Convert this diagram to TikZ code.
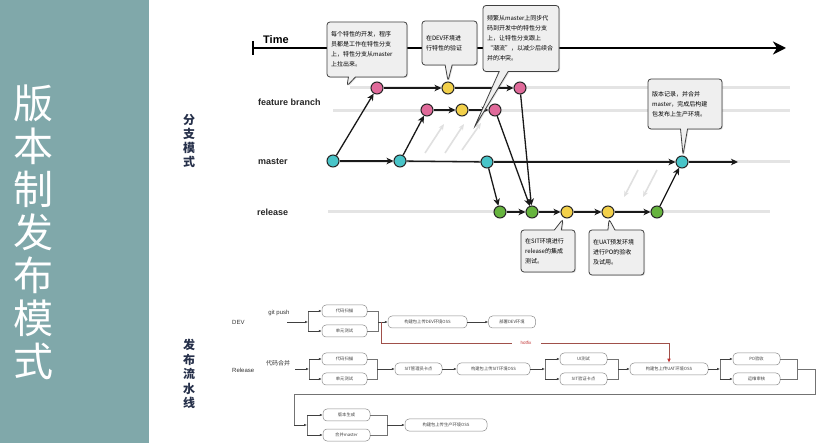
\documentclass[tikz,border=0pt]{standalone}
\usepackage{fontspec}
\setmainfont{Liberation Sans}
\newfontfamily\cjk{Noto Sans CJK SC}
\usetikzlibrary{arrows.meta,shapes.callouts,shadows}
\definecolor{panel}{HTML}{80A8AA}
\definecolor{navy}{HTML}{26304A}
\definecolor{pinkc}{HTML}{E06A9A}
\definecolor{yelc}{HTML}{F2D04A}
\definecolor{tealc}{HTML}{48C4C8}
\definecolor{greenc}{HTML}{66B43E}
\definecolor{fade}{HTML}{E4E4E4}
\definecolor{boxfill}{HTML}{EFEFEF}
\definecolor{hot}{HTML}{A0504A}
\definecolor{hotred}{HTML}{C03030}
\begin{document}
\begin{tikzpicture}[x=1pt,y=-1pt,
  commit/.style={circle, draw=black!85, line width=1pt, minimum size=12pt, inner sep=0pt},
  pk/.style={commit, fill=pinkc},
  yl/.style={commit, fill=yelc},
  tl/.style={commit, fill=tealc},
  gr/.style={commit, fill=greenc},
  flow/.style={line width=1.3pt, black!90, -{Stealth[length=7pt,width=6.5pt,inset=2pt]}},
  plainflow/.style={line width=1.3pt, black!90},
  fadeline/.style={line width=3pt, fade},
  fadearrow/.style={line width=1.6pt, black!12, -{Stealth[length=6pt,width=5pt]}},
  note/.style={rectangle callout, rounded corners=3pt, draw=black!75, fill=boxfill,
     line width=0.8pt, font=\cjk\fontsize{6}{10}\selectfont, align=left, inner sep=4pt,
     callout pointer width=7pt,
     drop shadow={opacity=0.25, shadow xshift=1pt, shadow yshift=-1pt}},
  lbl/.style={font=\bfseries\fontsize{9}{10}\selectfont, anchor=west, inner sep=0pt, text=black!85},
  pbox/.style={rounded corners=4pt, draw=black!45, fill=white, line width=0.5pt,
     font=\cjk\fontsize{4.3}{5}\selectfont, text=black!75, minimum height=12pt, inner sep=1pt},
  ptext/.style={font=\fontsize{6}{7}\selectfont, text=black!80, inner sep=0pt},
  pctext/.style={font=\cjk\fontsize{6}{7}\selectfont, text=black!80, inner sep=0pt},
  parrow/.style={draw=black!75, line width=0.5pt, -{Latex[length=3pt,width=2.5pt]}},
  pline/.style={draw=black!55, line width=0.5pt},
  hotline/.style={draw=hot, line width=0.7pt}
]
\useasboundingbox (0,0) rectangle (830,443);
\fill[white] (0,0) rectangle (830,443);
\fill[panel] (0,0) rectangle (149,443);
\node[font=\cjk\fontsize{40}{43}\selectfont, text=white, align=center, inner sep=0pt] (title) at (33,232) {版\\本\\制\\发\\布\\模\\式};
\node[font=\cjk\bfseries\fontsize{12}{13.75}\selectfont, text=navy, align=center, inner sep=0pt] (secA) at (189,141) {分\\支\\模\\式};
\node[font=\cjk\bfseries\fontsize{12}{14.4}\selectfont, text=navy, align=center, inner sep=0pt] (secB) at (189,374) {发\\布\\流\\水\\线};

% time axis
\node[font=\bfseries\fontsize{11}{12}\selectfont, anchor=west, inner sep=0pt] (lblTime) at (263,40) {Time};
\coordinate (t0) at (254,48); \coordinate (t1) at (786,48);
\draw[line width=2.4pt, -{Stealth[length=13pt,width=13pt,inset=4pt]}] (t0) -- (t1);
\coordinate (tk0) at (253,41); \coordinate (tk1) at (253,55);
\draw[line width=2.5pt] (tk0) -- (tk1);

% faded lanes
\coordinate (fa0) at (350,88); \coordinate (fa1) at (790,88);
\coordinate (fb0) at (333,111); \coordinate (fb1) at (790,111);
\coordinate (fc0) at (330,162); \coordinate (fc1) at (790,162);
\coordinate (fd0) at (328,212); \coordinate (fd1) at (770,212);
\draw[fadeline] (fa0) -- (fa1);
\draw[fadeline] (fb0) -- (fb1);
\draw[fadeline] (fc0) -- (fc1);
\draw[fadeline] (fd0) -- (fd1);

% lane labels
\node[lbl] (lblF) at (258,102) {feature branch};
\node[lbl] (lblM) at (258,162) {master};
\node[lbl] (lblR) at (257,212) {release};

% sync hints
\coordinate (g1a) at (425,153); \coordinate (g1b) at (444,124);
\coordinate (g2a) at (445,153); \coordinate (g2b) at (464,124);
\coordinate (g3a) at (462,150); \coordinate (g3b) at (481,123);
\coordinate (g4a) at (638,170); \coordinate (g4b) at (624,197);
\coordinate (g5a) at (657,170); \coordinate (g5b) at (643,197);
\draw[fadearrow] (g1a) -- (g1b);
\draw[fadearrow] (g2a) -- (g2b);
\draw[fadearrow] (g3a) -- (g3b);
\draw[fadearrow] (g4a) -- (g4b);
\draw[fadearrow] (g5a) -- (g5b);

% commits
\node[tl] (M1) at (333,161) {};
\node[tl] (M2) at (400,161) {};
\node[tl] (M3) at (487,162) {};
\node[tl] (M4) at (682,162) {};
\node[pk] (F1) at (377,88) {};
\node[yl] (Y1) at (448,88) {};
\node[pk] (F2) at (520,88) {};
\node[pk] (F3) at (427,110) {};
\node[yl] (Y2) at (462,110) {};
\node[pk] (F4) at (495,110) {};
\node[gr] (R1) at (500,212) {};
\node[gr] (R2) at (532,212) {};
\node[yl] (Y3) at (567,212) {};
\node[yl] (Y4) at (608,212) {};
\node[gr] (R3) at (657,212) {};
\coordinate (mEnd) at (738,162);

\draw[flow] (M1) -- (F1);
\draw[flow] (M1) -- (M2);
\draw[flow] (M2) -- (F3);
\draw[plainflow] (M2) -- (M3);
\draw[flow] (M3) -- (M4);
\draw[flow] (M3) -- (R1);
\draw[flow] (F1) -- (Y1);
\draw[flow] (Y1) -- (F2);
\draw[flow] (F3) -- (Y2);
\draw[flow] (Y2) -- (F4);
\draw[flow] (F2) -- (R2);
\draw[flow] (F4) -- (R2);
\draw[flow] (R1) -- (R2);
\draw[flow] (R2) -- (Y3);
\draw[flow] (Y3) -- (Y4);
\draw[flow] (Y4) -- (R3);
\draw[flow] (R3) -- (M4);
\draw[flow] (M4) -- (mEnd);

% callouts
\coordinate (p1) at (347,86);
\coordinate (p2) at (448,81);
\coordinate (p3) at (474,128);
\coordinate (p4) at (683,155);
\coordinate (p5) at (563,219);
\coordinate (p6) at (609,219);
\node[note, minimum width=80pt, minimum height=55pt, text width=72pt, callout absolute pointer=(p1)] (c1) at (367,49.5)
 {每个特性的开发，程序\\员都是工作在特性分支\\上，特性分支从master\\上拉出来。};
\node[note, minimum width=55pt, minimum height=44pt, text width=47pt, callout absolute pointer=(p2)] (c2) at (449.5,43)
 {在DEV环境进\\行特性的验证};
\node[note, minimum width=76pt, minimum height=66pt, text width=68pt, callout absolute pointer=(p3), callout pointer width=9pt] (c3) at (521,38.5)
 {频繁从master上同步代\\码到开发中的特性分支\\上，让特性分支跟上\\“潮流”，以减少后续合\\并的冲突。};
\node[note, minimum width=74pt, minimum height=50pt, text width=66pt, callout absolute pointer=(p4)] (c4) at (685,104)
 {版本记录，并合并\\master，完成后构建\\包发布上生产环境。};
\node[note, minimum width=54pt, minimum height=42pt, text width=46pt, callout absolute pointer=(p5)] (c5) at (548,251)
 {在SIT环境进行\\release的集成\\测试。};
\node[note, minimum width=55pt, minimum height=45pt, text width=47pt, callout absolute pointer=(p6)] (c6) at (616.5,252.5)
 {在UAT预发环境\\进行PO的验收\\及试用。};

% ---------------- pipeline: DEV ----------------
\node[ptext, anchor=west] (lDEV) at (232,322) {DEV};
\node[ptext] (lgit) at (279,313) {git push};
\node[pbox, minimum width=45pt] (d1) at (344.5,311) {代码扫描};
\node[pbox, minimum width=45pt] (d2) at (344.5,331) {单元测试};
\node[pbox, minimum width=79pt] (d3) at (427.5,322) {构建包上传DEV环境OSS};
\node[pbox, minimum width=47pt] (d4) at (512,322) {部署DEV环境};
\coordinate (dA) at (287,322); \coordinate (dB) at (308,322);
\coordinate (dBt) at (308,311); \coordinate (dBb) at (308,331);
\coordinate (dCt) at (378,311); \coordinate (dCb) at (378,331); \coordinate (dCm) at (378,322);
\draw[parrow] (dA) -- (dB);
\draw[pline] (dBt) -- (dBb);
\draw[parrow] (dBt) -- (d1);
\draw[parrow] (dBb) -- (d2);
\draw[pline] (d1) -- (dCt) -- (dCb) -- (d2);
\draw[parrow] (dCm) -- (d3);
\draw[parrow] (d3) -- (d4);

% hotfix
\coordinate (hA) at (381,322); \coordinate (hB) at (512,343); \coordinate (hC) at (541,343);
\node[font=\fontsize{4.5}{5}\selectfont, text=hotred, inner sep=0pt] (hfx) at (526,343) {hotfix};

% ---------------- pipeline: Release ----------------
\node[ptext, anchor=west] (lRel) at (232,370) {Release};
\node[pctext] (lmerge) at (278,363) {代码合并};
\node[pbox, minimum width=45pt] (r1) at (344.5,359) {代码扫描};
\node[pbox, minimum width=45pt] (r2) at (344.5,379) {单元测试};
\node[pbox, minimum width=47pt] (r3) at (418.5,369) {SIT管理员卡点};
\node[pbox, minimum width=73pt] (r4) at (493.5,369) {构建包上传SIT环境OSS};
\node[pbox, minimum width=47pt] (u1) at (583.5,359) {UI测试};
\node[pbox, minimum width=47pt] (u2) at (583.5,379) {SIT验证卡点};
\node[pbox, minimum width=78pt] (u3) at (669,369) {构建包上传UAT环境OSS};
\node[pbox, minimum width=47pt] (q1) at (756.5,359) {PO验收};
\node[pbox, minimum width=47pt] (q2) at (756.5,379) {运维审核};
\node[pbox, minimum width=47pt] (v1) at (346.5,415) {版本生成};
\node[pbox, minimum width=47pt] (v2) at (346.5,435) {合并master};
\node[pbox, minimum width=82pt] (v3) at (446,425) {构建包上传生产环境OSS};

\draw[hotline] (hA) |- (hB);
\draw[hotline, -{Latex[length=4pt,width=3.5pt,color=hotred]}] (hC) -| (u3.north);

\coordinate (rA) at (295,369); \coordinate (rB) at (309,369);
\coordinate (rBt) at (309,359); \coordinate (rBb) at (309,379);
\draw[parrow] (rA) -- (rB);
\draw[pline] (rBt) -- (rBb);
\draw[parrow] (rBt) -- (r1);
\draw[parrow] (rBb) -- (r2);
\coordinate (rCt) at (377,359); \coordinate (rCb) at (377,379); \coordinate (rCm) at (377,369);
\draw[pline] (r1) -- (rCt) -- (rCb) -- (r2);
\draw[parrow] (rCm) -- (r3);
\draw[parrow] (r3) -- (r4);
\coordinate (sB) at (545,369); \coordinate (sBt) at (545,359); \coordinate (sBb) at (545,379);
\draw[parrow] (r4) -- (sB);
\draw[pline] (sBt) -- (sBb);
\draw[parrow] (sBt) -- (u1);
\draw[parrow] (sBb) -- (u2);
\coordinate (sCt) at (618,359); \coordinate (sCb) at (618,379); \coordinate (sCm) at (618,369);
\draw[pline] (u1) -- (sCt) -- (sCb) -- (u2);
\draw[parrow] (sCm) -- (u3);
\coordinate (qB) at (720,369); \coordinate (qBt) at (720,359); \coordinate (qBb) at (720,379);
\draw[parrow] (u3) -- (qB);
\draw[pline] (qBt) -- (qBb);
\draw[parrow] (qBt) -- (q1);
\draw[parrow] (qBb) -- (q2);
\coordinate (qCt) at (797,359); \coordinate (qCb) at (797,379); \coordinate (qCm) at (797,369);
\draw[pline] (q1) -- (qCt) -- (qCb) -- (q2);
\coordinate (w1) at (815,369); \coordinate (w2) at (815,394); \coordinate (w3) at (294,394);
\coordinate (w4) at (294,425); \coordinate (vB) at (307,425);
\coordinate (vBt) at (307,415); \coordinate (vBb) at (307,435);
\draw[pline] (qCm) -- (w1) -- (w2) -- (w3) -- (w4);
\draw[parrow] (w4) -- (vB);
\draw[pline] (vBt) -- (vBb);
\draw[parrow] (vBt) -- (v1);
\draw[parrow] (vBb) -- (v2);
\coordinate (vCt) at (387,415); \coordinate (vCb) at (387,435); \coordinate (vCm) at (387,425);
\draw[pline] (v1) -- (vCt) -- (vCb) -- (v2);
\draw[parrow] (vCm) -- (v3);
\end{tikzpicture}
\end{document}
